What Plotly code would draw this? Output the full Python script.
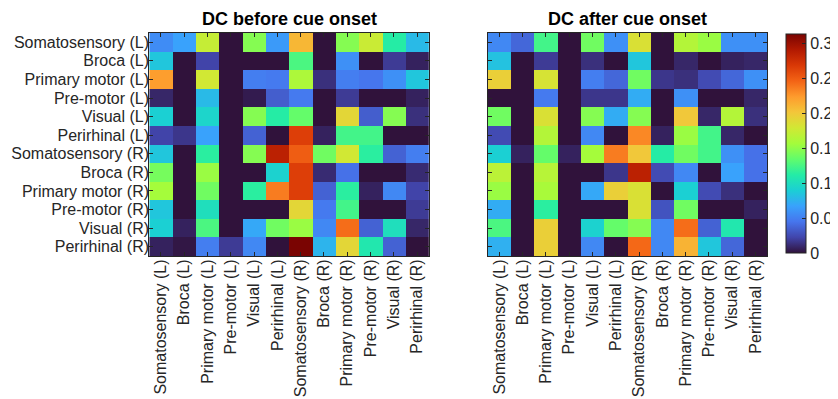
import plotly.graph_objects as go

regions = ["Somatosensory (L)", "Broca (L)", "Primary motor (L)", "Pre-motor (L)",
           "Visual (L)", "Perirhinal (L)", "Somatosensory (R)", "Broca (R)",
           "Primary motor (R)", "Pre-motor (R)", "Visual (R)", "Perirhinal (R)"]

dc_before = [
    [0.056, 0.067, 0.173, 0, 0.146, 0.063, 0.209, 0, 0.146, 0.175, 0.112, 0.079],
    [0.085, 0, 0.022, 0, 0, 0, 0.126, 0, 0.058, 0, 0.018, 0.007],
    [0.222, 0, 0.179, 0, 0.049, 0.047, 0.161, 0.013, 0.049, 0.045, 0.058, 0.085],
    [0.009, 0, 0.079, 0, 0.004, 0.034, 0.047, 0, 0.018, 0, 0, 0.007],
    [0.090, 0, 0.094, 0, 0.146, 0.112, 0.135, 0, 0.191, 0.034, 0.146, 0.013],
    [0.022, 0.016, 0.067, 0, 0.036, 0, 0.265, 0.007, 0.123, 0.123, 0, 0],
    [0.085, 0, 0.114, 0, 0.146, 0.285, 0.249, 0.139, 0.179, 0.114, 0.036, 0.049],
    [0.141, 0, 0.153, 0, 0, 0.092, 0.265, 0.011, 0.043, 0, 0, 0.011],
    [0.157, 0, 0.139, 0, 0.114, 0.236, 0.265, 0.036, 0.114, 0.007, 0.054, 0.022],
    [0.085, 0, 0.101, 0, 0, 0, 0.191, 0.047, 0.123, 0, 0, 0.018],
    [0.090, 0.007, 0.126, 0, 0.070, 0.139, 0.153, 0.054, 0.242, 0.036, 0.101, 0.009],
    [0.007, 0.002, 0.049, 0.018, 0.054, 0, 0.313, 0.076, 0.191, 0.108, 0.036, 0],
]

dc_after = [
    [0.054, 0.038, 0.123, 0, 0.139, 0.058, 0.184, 0, 0.164, 0.153, 0.058, 0.058],
    [0.083, 0, 0.018, 0, 0.013, 0, 0.085, 0, 0.009, 0, 0.007, 0.009],
    [0.195, 0, 0.182, 0, 0.049, 0.038, 0.139, 0.016, 0.013, 0.025, 0.038, 0.058],
    [0, 0, 0.047, 0, 0.016, 0.016, 0.072, 0, 0.058, 0, 0, 0.009],
    [0.139, 0, 0.184, 0, 0.146, 0.072, 0.146, 0, 0.200, 0.009, 0.164, 0.013],
    [0.025, 0, 0.164, 0, 0.054, 0, 0.231, 0.007, 0.153, 0.123, 0.009, 0],
    [0.090, 0.007, 0.135, 0.007, 0.157, 0.236, 0.200, 0.112, 0.139, 0.123, 0.058, 0.043],
    [0.168, 0, 0.166, 0, 0, 0.016, 0.285, 0.025, 0.054, 0, 0.067, 0.043],
    [0.153, 0, 0.159, 0, 0.070, 0.195, 0.184, 0, 0.090, 0.025, 0.013, 0],
    [0.072, 0, 0.114, 0, 0, 0, 0.184, 0.029, 0.139, 0, 0, 0.007],
    [0.126, 0, 0.195, 0, 0.092, 0.135, 0.146, 0.054, 0.242, 0.036, 0.108, 0],
    [0.074, 0, 0.195, 0, 0.054, 0, 0.244, 0.054, 0.211, 0.085, 0.038, 0],
]

titles = ["DC before cue onset", "DC after cue onset"]
cbar_ticks = [0, 0.05, 0.1, 0.15, 0.2, 0.25, 0.3]

W, H = 838, 399
OFF = 8  # page body margin


def px(X):
    return (X - OFF) / W


def py(Y):
    return 1 - (Y - OFF) / H


idx = list(range(len(regions)))

fig = go.Figure()
fig.add_trace(go.Heatmap(z=dc_before, x=idx, y=idx, coloraxis="coloraxis",
                         xaxis="x", yaxis="y"))
fig.add_trace(go.Heatmap(z=dc_after, x=idx, y=idx, coloraxis="coloraxis",
                         xaxis="x2", yaxis="y2"))

TOP, BOT = 33, 256
CB_TOP, CB_BOT = 34, 253
axcommon = dict(showline=True, linecolor="#262626", linewidth=1, mirror="ticks",
                ticks="inside", ticklen=4, tickcolor="#262626", showgrid=False,
                zeroline=False, automargin=False, ticklabelstandoff=-4,
                tickfont=dict(size=16, color="#262626"))

fig.update_layout(
    template="none",
    width=W, height=H,
    margin=dict(l=0, r=0, t=0, b=0),
    paper_bgcolor="white", plot_bgcolor="white",
    font=dict(family="Liberation Sans, Arial, sans-serif", size=16, color="#262626"),
    coloraxis=dict(colorscale="Turbo", cmin=0, cmax=0.313,
                   colorbar=dict(x=px(801), xanchor="left", thickness=20,
                                 xpad=0, ypad=0,
                                 len=(CB_BOT - CB_TOP) / H, lenmode="fraction",
                                 y=(py(CB_TOP) + py(CB_BOT)) / 2, yanchor="middle",
                                 tickvals=cbar_ticks,
                                 ticktext=[str(t) for t in cbar_ticks],
                                 ticks="inside", ticklen=4, tickcolor="#262626",
                                 outlinewidth=1, outlinecolor="#262626",
                                 tickfont=dict(size=16, color="#262626"))),
    xaxis=dict(domain=[px(152), px(437)], anchor="y", range=[-0.5, 11.5],
               tickvals=idx, ticktext=regions, tickangle=-90, **axcommon),
    yaxis=dict(domain=[py(BOT), py(TOP)], anchor="x", range=[11.5, -0.5],
               tickvals=idx, ticktext=regions, **axcommon),
    xaxis2=dict(domain=[px(497), px(782)], anchor="y2", range=[-0.5, 11.5],
                tickvals=idx, ticktext=regions, tickangle=-90, **axcommon),
    yaxis2=dict(domain=[py(BOT), py(TOP)], anchor="x2", range=[11.5, -0.5],
                tickvals=idx, showticklabels=False, **axcommon),
)

for t, cx in zip(titles, [px((152 + 437) / 2), px((497 + 782) / 2)]):
    fig.add_annotation(text="<b>" + t + "</b>", x=cx, y=py(19),
                       xref="paper", yref="paper", showarrow=False,
                       font=dict(size=18, color="black"),
                       xanchor="center", yanchor="middle")

fig.write_html("out.html")
